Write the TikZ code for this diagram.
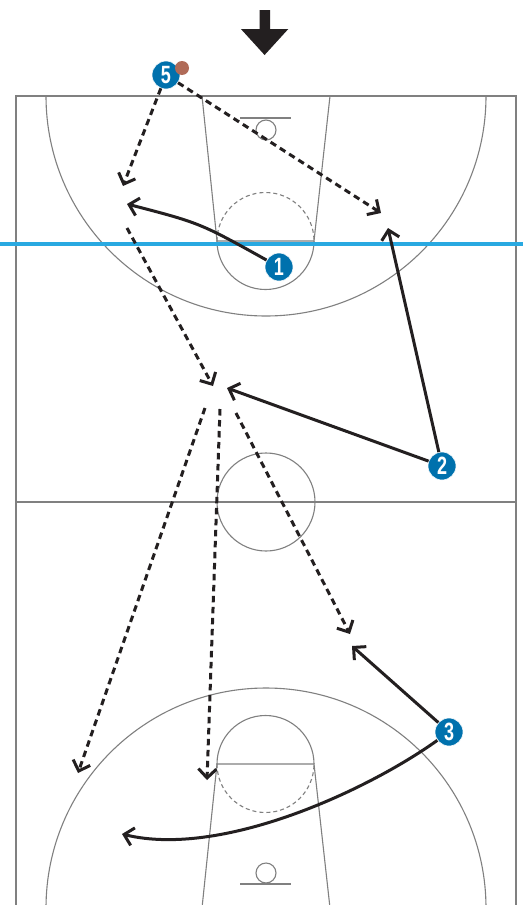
\documentclass[tikz,border=0pt]{standalone}
\usepackage{fontspec}
\newfontfamily\numfont[FakeStretch=0.72]{Liberation Sans}
\usetikzlibrary{arrows.meta}
\definecolor{pblue}{HTML}{0071AD}
\definecolor{lblue}{HTML}{29A9E1}
\definecolor{ballc}{HTML}{B06B58}
\definecolor{ink}{HTML}{231F20}
\definecolor{courtc}{HTML}{808080}
\begin{document}
\begin{tikzpicture}[x=1pt,y=-1pt,
  court/.style={draw=courtc,line width=1.1pt},
  courtdash/.style={court,dash pattern=on 4pt off 3pt},
  player/.style={circle,fill=pblue,draw=white,line width=0.6pt,minimum size=28pt,inner sep=0pt,text=white,font=\numfont\bfseries\fontsize{25}{25}\selectfont},
  ball/.style={circle,fill=ballc,minimum size=14pt,inner sep=0pt},
  run/.style={line width=3pt,draw=ink,-{Straight Barb[length=9pt,width=18pt]}},
  pass/.style={run,dash pattern=on 6.5pt off 4.5pt}]
\useasboundingbox (0,0) rectangle (523,905);
\fill[white] (0,0) rectangle (523,905);
\begin{scope}
\clip (0,0) rectangle (523,905);
% court outline
\draw[court] (16,908) -- (16,96) -- (516,96) -- (516,908);
\draw[court] (16,502) -- (516,502);
\draw[court] (266,502) circle[radius=49];
% top half
\draw[court] (46,96) arc[start angle=180,end angle=360,radius=220pt];
\draw[court] (202,96) -- (217,241) -- (314,241) -- (330,96);
\draw[courtdash] (217,241) arc[start angle=180,end angle=0,radius=48.5pt];
\draw[court] (217,241) arc[start angle=180,end angle=360,radius=48.5pt];
\draw[court] (240,118) -- (291,118);
\draw[court] (266,130) circle[radius=10];
% bottom half
\draw[court] (46,908) arc[start angle=180,end angle=0,radius=220pt];
\draw[court] (202,908) -- (217,764) -- (314,764) -- (330,908);
\draw[court] (217,764) arc[start angle=180,end angle=0,radius=48.5pt];
\draw[courtdash] (217,764) arc[start angle=180,end angle=360,radius=48.5pt];
\draw[court] (240,884) -- (291,884);
\draw[court] (266,873) circle[radius=10];
\end{scope}
% blue line
\draw[lblue,line width=3.3pt] (0,244) -- (523,244);
% big arrow
\fill[ink] (259.5,10) -- (270,10) -- (270,29) -- (288.3,29) -- (264.6,55) -- (240.9,29) -- (259.5,29) -- cycle;
% players
\node[player] (p5) at (166,75) {5};
\node[ball] (ball) at (182,68) {};
\node[player] (p1) at (279,267) {1};
\node[player] (p2) at (442,466) {2};
\node[player] (p3) at (449,732) {3};
% coordinates
\coordinate (t5L) at (123,186);
\coordinate (t5R) at (381,213);
\coordinate (t1) at (127,204);
\coordinate (t2a) at (388,228);
\coordinate (t2b) at (227,388);
\coordinate (s6) at (127,228);
\coordinate (t6) at (213,386);
\coordinate (s7) at (205,408);
\coordinate (t7) at (78,773);
\coordinate (s8) at (220,409);
\coordinate (t8) at (207,780);
\coordinate (s9) at (236,413);
\coordinate (t9) at (350,634);
\coordinate (t10) at (352,646);
\coordinate (t11) at (122,834);
% passes
\draw[pass] (p5) -- (t5L);
\draw[pass] (p5) -- (t5R);
\draw[pass] (s6) -- (t6);
\draw[pass] (s7) -- (t7);
\draw[pass] (s8) -- (t8);
\draw[pass] (s9) -- (t9);
% runs
\draw[run] (p1) .. controls (200,223) .. (t1);
\draw[run] (p2) -- (t2a);
\draw[run] (p2) -- (t2b);
\draw[run] (p3) -- (t10);
\draw[run] (p3) .. controls (365,792) and (220,858) .. (t11);
\end{tikzpicture}
\end{document}
